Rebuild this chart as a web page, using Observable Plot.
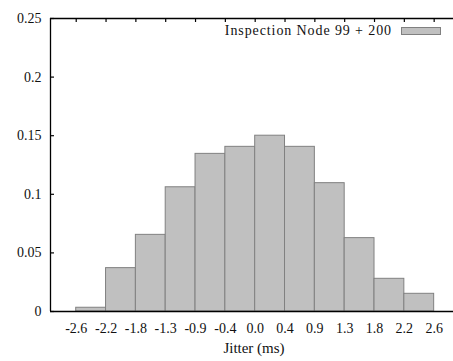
<!DOCTYPE html>
<html><head><meta charset="utf-8">
<script src="https://cdn.jsdelivr.net/npm/d3@7"></script>
<script src="https://cdn.jsdelivr.net/npm/@observablehq/plot@0.6"></script>
<style>
body{margin:0;background:#fff}
#wrap{position:relative;width:453px;height:361px;font-family:"Liberation Serif",serif;color:#111}
#legend{position:absolute;left:200px;width:241px;top:23px;display:flex;justify-content:flex-end;align-items:center;font-size:14px;line-height:16px;letter-spacing:0.9px}
#legend .sw{display:inline-block;width:38px;height:6px;background:#c0c0c0;border:1px solid #808080;margin-left:9px}
</style></head><body><div id="wrap"></div>
<script>
const binEdgeLabels = ["-2.6","-2.2","-1.8","-1.3","-0.9","-0.4","0.0","0.4","0.9","1.3","1.8","2.2","2.6"];
const density = [0.0032,0.037,0.0654,0.106,0.1345,0.1405,0.150,0.1405,0.1095,0.0626,0.0279,0.0151];
const yTicks = [0,0.05,0.1,0.15,0.2,0.25];
const seriesName = "Inspection Node 99 + 200";
const xLabel = "Jitter (ms)";
const xDomain = [-0.862, 12.648];
const yDomain = [0, 0.25];

const bars = density.map((v,i)=>({i, v}));
const edges = binEdgeLabels.map((l,i)=>i);
const W = 453, H = 361, mL = 50, mR = 0, mT = 18, mB = 50, tick = 4;
const tickY = tick * (yDomain[1]-yDomain[0]) / (H-mT-mB);
const tickX = tick * (xDomain[1]-xDomain[0]) / (W-mL-mR);

const plot = Plot.plot({
  width:W, height:H, marginLeft:mL, marginRight:mR, marginTop:mT, marginBottom:mB,
  style:{fontFamily:"'Liberation Serif', serif", fontSize:"14px", color:"#111", background:"#fff"},
  x:{domain:xDomain}, y:{domain:yDomain},
  marks:[
    Plot.rectY(bars,{x1:"i", x2:d=>d.i+1, y:"v", fill:"#c0c0c0", stroke:"#808080", strokeWidth:1}),
    Plot.ruleY([yDomain[0], yDomain[1]],{stroke:"#000", strokeWidth:1.3}),
    Plot.ruleX([xDomain[0]],{stroke:"#000", strokeWidth:1.3}),
    Plot.ruleX(edges,{x:d=>d, y1:yDomain[1], y2:yDomain[1]-tickY, stroke:"#000", strokeWidth:1.2}),
    Plot.ruleY(yTicks,{y:d=>d, x1:xDomain[0], x2:xDomain[0]+tickX, stroke:"#000", strokeWidth:1.2}),
    Plot.axisX(edges,{anchor:"bottom", tickSize:0, tickPadding:12, fontSize:14, tickFormat:i=>binEdgeLabels[i], label:null}),
    Plot.axisY(yTicks,{anchor:"left", tickSize:0, tickPadding:9, fontSize:14, tickFormat:d=>String(d), label:null}),
    Plot.text([xLabel],{frameAnchor:"bottom", x:null, dx:2, dy:41, fontSize:15, fill:"#111"})
  ]
});
const wrap = document.getElementById("wrap");
wrap.appendChild(plot);
const leg = document.createElement("div");
leg.id = "legend";
leg.innerHTML = `<span></span><span class="sw"></span>`;
leg.firstChild.textContent = seriesName;
wrap.appendChild(leg);
</script></body></html>
